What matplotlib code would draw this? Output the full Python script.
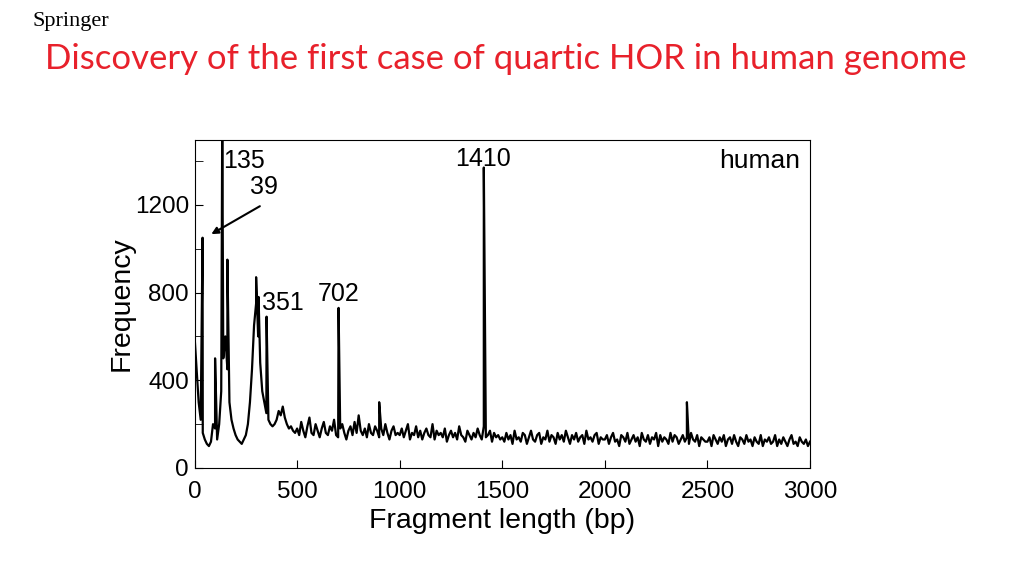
import numpy as np
import matplotlib.pyplot as plt

plt.rcParams["font.family"] = ["Liberation Sans", "DejaVu Sans"]

# base spectrum, one value every 10 bp from 0 to 3000
base_start = [600, 450, 300, 220, 160, 130, 110, 100, 120, 200,
              180, 130, 200, 350, 500, 600, 450, 300, 220, 180,
              150, 130, 120, 110, 130, 150, 200, 300, 450, 650,
              750, 600, 480, 350, 300, 250, 220, 200, 190, 200,
              220, 260, 240, 280, 230, 200, 180, 190, 170, 160]
base_500 = [180, 150, 210, 170, 140, 190, 230, 160, 150, 200, 170, 140, 180, 210, 160, 150, 190, 170, 220, 150,
            140, 180, 200, 160, 130, 170, 190, 150, 210, 160, 240, 170, 150, 180, 140, 200, 160, 150, 190, 170,
            140, 180, 150, 200, 160, 130, 170, 190, 150, 160]
base_1000 = [150, 180, 140, 170, 200, 130, 160, 150, 190, 140, 170, 130, 160, 180, 150, 140, 200, 130, 170, 150,
             160, 140, 180, 120, 150, 170, 140, 160, 130, 190, 150, 140, 120, 170, 150, 130, 160, 140, 180, 150,
             130, 190, 140, 150, 170, 120, 160, 140, 150, 130]
base_1500 = [140, 120, 160, 130, 150, 110, 170, 130, 140, 120, 160, 150, 110, 140, 170, 130, 120, 150, 160, 110,
             140, 130, 170, 120, 150, 140, 110, 160, 130, 150, 120, 170, 140, 110, 150, 130, 160, 120, 140, 150,
             110, 170, 130, 140, 120, 150, 160, 110, 140, 130]
base_2000 = [130, 150, 110, 140, 160, 120, 130, 100, 150, 140, 120, 160, 110, 130, 150, 120, 140, 100, 160, 130,
             120, 150, 110, 140, 130, 160, 100, 150, 120, 140, 130, 110, 160, 120, 150, 140, 110, 130, 150, 120,
             140, 110, 160, 130, 120, 150, 100, 140, 130, 120]
base_2500 = [120, 140, 100, 150, 130, 110, 140, 120, 150, 100, 130, 140, 110, 150, 120, 100, 140, 130, 110, 150,
             120, 130, 100, 140, 120, 110, 150, 100, 130, 120, 140, 110, 120, 150, 100, 130, 110, 140, 120, 100,
             130, 150, 110, 120, 100, 140, 120, 110, 130, 100, 120]

# narrow peaks
peak_x = [39, 100, 135, 160, 300, 312, 351, 702, 900, 1410, 2400]
peak_y = [1050, 500, 1600, 950, 870, 780, 690, 730, 300, 1370, 300]

base_y = base_start + base_500 + base_1000 + base_1500 + base_2000 + base_2500
base_x = list(range(0, 10 * len(base_y), 10))

xs = np.array(base_x + peak_x, dtype=float)
ys = np.array(base_y + peak_y, dtype=float)
order = np.argsort(xs, kind="stable")
xs, ys = xs[order], ys[order]

fig = plt.figure(figsize=(10.24, 5.76), dpi=100)
ax = fig.add_axes([0.190, 0.1875, 0.601, 0.57])
ax.plot(xs, ys, color="black", lw=1.6)
ax.set_xlim(0, 3000)
ax.set_ylim(0, 1497)
ax.set_xticks(range(0, 3001, 500))
ax.set_yticks([0, 400, 800, 1200])
ax.set_yticks([200, 600, 1000, 1400], minor=True)
ax.tick_params(labelsize=17.5, direction="in", length=6, pad=4)
ax.tick_params(axis="x", pad=9)
ax.tick_params(which="minor", direction="in", length=6)
ax.set_xlabel("Fragment length (bp)", fontsize=20.5, labelpad=4)
ax.set_ylabel("Frequency", fontsize=20.5, labelpad=0)

ax.text(140, 1370, "135", fontsize=18)
ax.text(270, 1250, "39", fontsize=18)
ax.annotate("", xy=(70, 1060), xytext=(330, 1200),
            arrowprops=dict(arrowstyle="-|>", color="black", lw=1.5))
ax.text(330, 720, "351", fontsize=18)
ax.text(600, 760, "702", fontsize=18)
ax.text(1270, 1375, "1410", fontsize=18)
ax.text(2950, 1370, "human", fontsize=19, ha="right")

fig.text(0.044, 0.88, "Discovery of the first case of quartic HOR in human genome",
         fontsize=25, color="#e8212b", family=["Lato", "DejaVu Sans"])
fig.text(0.032, 0.955, "Springer", fontsize=16, family=["Liberation Serif"])

fig.savefig("out.png")
